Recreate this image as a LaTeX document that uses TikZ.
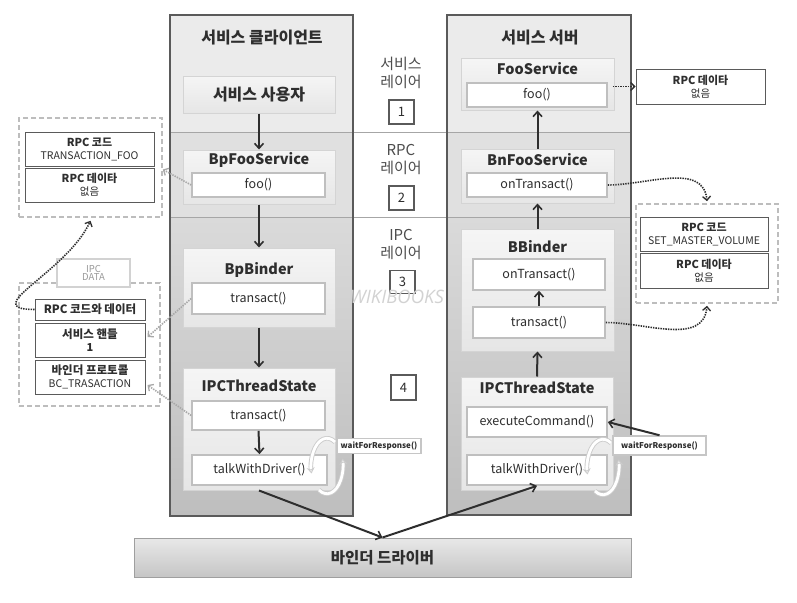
\documentclass[tikz,border=0pt]{standalone}
\usepackage{fontspec}
\setmainfont{Noto Sans CJK KR}
\newfontfamily\wmfont{Open Sans}
\usetikzlibrary{arrows.meta}
\definecolor{colborder}{HTML}{5A5A5A}
\definecolor{layA}{HTML}{EBEBEB}
\definecolor{layB}{HTML}{E0E0E0}
\definecolor{layCt}{HTML}{DADADA}
\definecolor{layCb}{HTML}{BEBEBE}
\definecolor{boxT}{HTML}{F5F5F5}
\definecolor{boxB}{HTML}{E6E6E6}
\definecolor{boxline}{HTML}{D4D4D4}
\definecolor{txt}{HTML}{2E2E2E}
\definecolor{dashgray}{HTML}{BDBDBD}
\definecolor{dotgray}{HTML}{A8A8A8}
\newcommand{\fsz}[1]{\fontsize{#1}{#1}\selectfont}
\begin{document}
\begin{tikzpicture}[x=1pt,y=-1pt,
  colbox/.style={draw=colborder,line width=1.2pt},
  layerline/.style={draw=gray!70,line width=0.9pt},
  graybox/.style={draw=boxline,line width=1pt,top color=boxT,bottom color=boxB},
  methbox/.style={draw=gray!50,line width=1.6pt,fill=white,text=txt,font=\fsz{12.5}},
  ttl/.style={text=txt,font=\bfseries\fsz{14.5}},
  kttl/.style={text=txt,font=\bfseries\fsz{16}},
  infobox/.style={draw=colborder,line width=1pt,fill=white,text=txt,align=center,inner sep=1pt},
  dashgroup/.style={draw=dashgray,dashed,dash pattern=on 5pt off 3pt,line width=1.6pt},
  waitbox/.style={draw=gray!45,line width=1.5pt,fill=white,text=txt,font=\bfseries\fsz{8}},
  numbox/.style={draw=colborder,line width=1.2pt,fill=white,text=txt,font=\fsz{13},inner sep=0pt},
  laylbl/.style={text=txt!85,font=\fsz{15},align=center},
  flow/.style={draw=txt,line width=2pt,-{Straight Barb[length=5pt,width=9pt,line width=1.6pt]}},
  blkdot/.style={draw=txt,line width=1.6pt,dash pattern=on 1.4pt off 1.1pt,-{Straight Barb[length=4pt,width=8pt,line width=1.3pt]}},
  grydot/.style={draw=dotgray,line width=1.6pt,dash pattern=on 1.4pt off 1.1pt,-{Straight Barb[length=4pt,width=8pt,line width=1.3pt]}},
  cyc/.style={draw=gray!40,double=white,double distance=2.8pt,line width=0.9pt}
]
\useasboundingbox (0,0) rectangle (797,602);
\fill[white] (0,0) rectangle (797,602);

% ---- columns background
\fill[layA] (170,15) rectangle (353,132);
\fill[layB] (170,132) rectangle (353,217);
\shade[top color=layCt,bottom color=layCb] (170,217) rectangle (353,516);
\fill[layA] (447,15) rectangle (631,132);
\fill[layB] (447,132) rectangle (631,217);
\shade[top color=layCt,bottom color=layCb] (447,217) rectangle (631,515);
\draw[layerline] (170,132) -- (631,132);
\draw[layerline] (170,217) -- (631,217);
\node[colbox,minimum width=183pt,minimum height=501pt,inner sep=0pt] (colL) at (261.5,265.5) {};
\node[colbox,minimum width=184pt,minimum height=500pt,inner sep=0pt] (colR) at (539,265) {};
\node[kttl] (ttlL) at (262,38) {서비스 클라이언트};
\node[kttl] (ttlR) at (540,38) {서비스 서버};

% ---- left column boxes
\node[graybox,minimum width=152pt,minimum height=37pt,kttl] (user) at (259,94.5) {서비스 사용자};
\node[graybox,minimum width=152pt,minimum height=54pt] (bpfoo) at (259,177) {};
\node[ttl] (bpfooT) at (259,160) {BpFooService};
\node[methbox,minimum width=133pt,minimum height=24pt] (fooL) at (258.5,185) {foo()};
\node[graybox,minimum width=152pt,minimum height=79pt] (bpbinder) at (259,287.5) {};
\node[ttl] (bpbinderT) at (259,270) {BpBinder};
\node[methbox,minimum width=133pt,minimum height=31pt] (transL) at (258.5,298.5) {transact()};
\node[graybox,minimum width=152pt,minimum height=122pt] (ipcL) at (259,429) {};
\node[ttl] (ipcLT) at (259,386) {IPCThreadState};
\node[methbox,minimum width=133pt,minimum height=29pt] (ipcLtrans) at (258.5,415.5) {transact()};
\node[methbox,minimum width=135pt,minimum height=30pt] (talkL) at (259.5,470) {talkWithDriver()};

% ---- right column boxes
\node[graybox,minimum width=153pt,minimum height=51pt] (fooserv) at (537.5,84.5) {};
\node[ttl] (fooservT) at (537.5,69) {FooService};
\node[methbox,minimum width=140pt,minimum height=24pt] (fooR) at (537,95) {foo()};
\node[graybox,minimum width=153pt,minimum height=54pt] (bnfoo) at (537.5,176) {};
\node[ttl] (bnfooT) at (537.5,160) {BnFooService};
\node[methbox,minimum width=140pt,minimum height=24pt] (onTR) at (537,185) {onTransact()};
\node[graybox,minimum width=153pt,minimum height=122pt] (bbinder) at (537.5,290) {};
\node[ttl] (bbinderT) at (537.5,247) {BBinder};
\node[methbox,minimum width=132pt,minimum height=31pt] (onTR2) at (539,274.5) {onTransact()};
\node[methbox,minimum width=132pt,minimum height=31pt] (transR) at (539,322.5) {transact()};
\node[graybox,minimum width=152pt,minimum height=113pt] (ipcR) at (537,433.5) {};
\node[ttl] (ipcRT) at (537,388) {IPCThreadState};
\node[methbox,minimum width=140pt,minimum height=30pt] (exec) at (537,422) {executeCommand()};
\node[methbox,minimum width=140pt,minimum height=30pt] (talkR) at (537,470) {talkWithDriver()};

% ---- cycle icons
\draw[cyc,-{Stealth[length=6pt,width=8pt,fill=white]}] (335,442) arc[start angle=300,end angle=165,x radius=16,y radius=28];
\draw[cyc,-{Stealth[length=6pt,width=8pt,fill=white]}] (319,490) arc[start angle=120,end angle=-15,x radius=16,y radius=28];
\draw[cyc,-{Stealth[length=6pt,width=8pt,fill=white]}] (611,443) arc[start angle=300,end angle=165,x radius=16,y radius=28];
\draw[cyc,-{Stealth[length=6pt,width=8pt,fill=white]}] (595,491) arc[start angle=120,end angle=-15,x radius=16,y radius=28];

\node[waitbox,minimum width=84pt,minimum height=15pt,inner sep=0pt] (waitL) at (379,446) {waitForResponse()};
\node[waitbox,minimum width=93pt,minimum height=19pt,inner sep=0pt] (waitR) at (659.5,445.5) {waitForResponse()};

% ---- binder driver
\node[draw=gray!75,line width=1pt,top color=gray!18,bottom color=gray!45,minimum width=497pt,minimum height=39pt,text=txt,font=\bfseries\fsz{15.5}] (driver) at (382.5,557.5) {바인더 드라이버};

% ---- center labels
\node[laylbl] (lay1) at (401,73) {서비스\\[3pt]레이어};
\node[numbox,minimum width=25pt,minimum height=24pt] (n1) at (401.5,112) {1};
\node[laylbl] (lay2) at (401,159) {RPC\\[3pt]레이어};
\node[numbox,minimum width=25pt,minimum height=24pt] (n2) at (401.5,198) {2};
\node[laylbl] (lay3) at (401,244) {IPC\\[3pt]레이어};
\node[numbox,minimum width=25pt,minimum height=23pt] (n3) at (402.5,282) {3};
\node[text=gray!35,font=\wmfont\itshape\fsz{18.5}] (wm) at (397,297) {WIKIBOOKS};
\node[numbox,minimum width=25pt,minimum height=25pt] (n4) at (403.5,387.5) {4};

% ---- left info boxes
\node[dashgroup,minimum width=143pt,minimum height=99pt,inner sep=0pt] (grpLU) at (90.5,167.5) {};
\node[infobox,minimum width=129pt,minimum height=34pt] (codeL) at (89.5,149) {{\bfseries\fsz{11}RPC 코드}\\[1pt]{\fsz{10.5}TRANSACTION\_FOO}};
\node[infobox,minimum width=129pt,minimum height=34pt] (dataL) at (89.5,185) {{\bfseries\fsz{11}RPC 데이타}\\[1pt]{\fsz{10.5}없음}};
\node[dashgroup,minimum width=141pt,minimum height=123pt,inner sep=0pt] (grpLL) at (89.5,344.5) {};
\node[draw=gray!35,line width=1.2pt,fill=white,text=gray!80,font=\fsz{9.5},align=center,minimum width=73pt,minimum height=28pt,inner sep=0pt] (ipcdata) at (93.5,273) {IPC\\[-1pt]DATA};
\node[infobox,minimum width=110pt,minimum height=21pt] (rpccd) at (90,309.5) {\bfseries\fsz{11.5}RPC 코드와 데이터};
\node[infobox,minimum width=110pt,minimum height=34pt] (handle) at (90,340) {{\bfseries\fsz{11.5}서비스 핸들}\\[1pt]{\bfseries\fsz{11}1}};
\node[infobox,minimum width=110pt,minimum height=34pt] (proto) at (90,377) {{\bfseries\fsz{11.5}바인더 프로토콜}\\[1pt]{\fsz{10.5}BC\_TRASACTION}};

% ---- right info boxes
\node[infobox,minimum width=129pt,minimum height=35pt] (dataR1) at (700.5,86.5) {{\bfseries\fsz{11}RPC 데이타}\\[1pt]{\fsz{10.5}없음}};
\node[dashgroup,minimum width=142pt,minimum height=99pt,inner sep=0pt] (grpR) at (707,253.5) {};
\node[infobox,minimum width=128pt,minimum height=34pt] (codeR) at (704,234) {{\bfseries\fsz{11}RPC 코드}\\[1pt]{\fsz{10.5}SET\_MASTER\_VOLUME}};
\node[infobox,minimum width=128pt,minimum height=35pt] (dataR2) at (704,270.5) {{\bfseries\fsz{11}RPC 데이타}\\[1pt]{\fsz{10.5}없음}};

% ---- flow arrows
\draw[flow] (user.south) -- (bpfoo.north);
\draw[flow] (bpfoo.south) -- (bpbinder.north);
\draw[flow] (bpbinder.south) -- (ipcL.north);
\draw[flow] (ipcLtrans.south) -- (talkL.north);
\draw[flow] (ipcL.south) -- (driver.north);
\draw[flow] (driver.north) -- (talkR.south);
\draw[flow] (ipcR.north) -- (bbinder.south);
\draw[flow] (transR.north) -- (onTR2.south);
\draw[flow] (bbinder.north) -- (bnfoo.south);
\draw[flow] (bnfoo.north) -- (fooserv.south);
\draw[flow] (waitR.north) -- (exec.east);

% ---- dotted connectors
\draw[blkdot] ([xshift=5pt]fooR.east |- dataR1.west) -- (dataR1.west);
\draw[blkdot] (onTR.east) to[out=0,in=95] ([yshift=2pt]grpR.north);
\draw[blkdot] (transR.east) to[out=0,in=-95] ([yshift=-2pt]grpR.south);
\draw[blkdot] (rpccd.west) to[out=180,in=-115,looseness=1.4] ([yshift=-3pt]grpLU.south);
\draw[grydot] (fooL.west) -- ([yshift=-2pt]grpLU.east);
\draw[grydot] (transL.west) -- ([xshift=2pt,yshift=3pt]handle.east);
\draw[grydot] (ipcLtrans.west) -- ([xshift=2pt,yshift=-8pt]proto.east);
\end{tikzpicture}
\end{document}
